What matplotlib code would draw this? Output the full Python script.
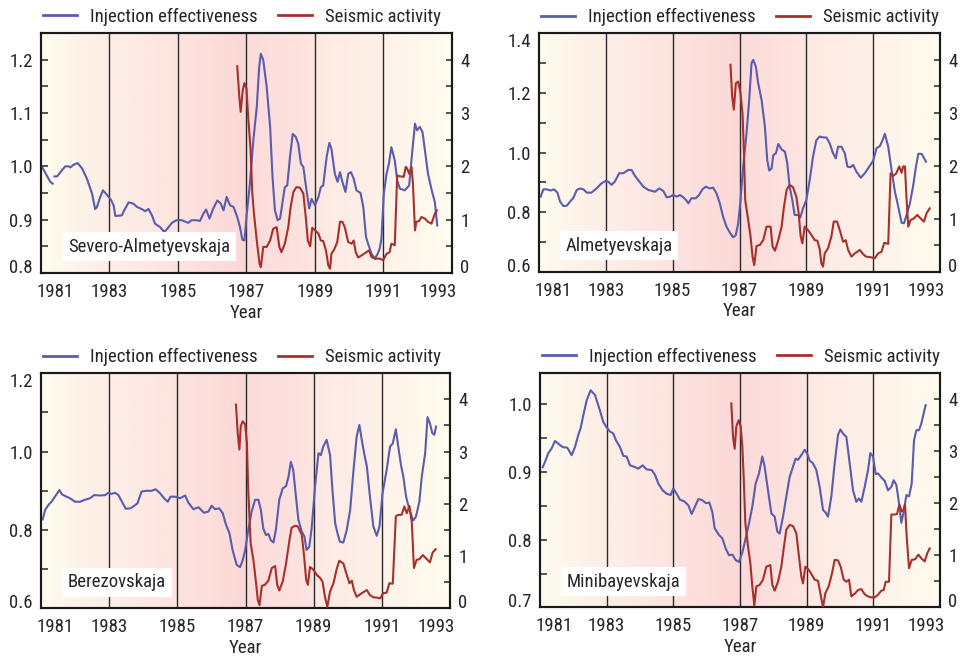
import numpy as np
import matplotlib
matplotlib.use("Agg")
import matplotlib.pyplot as plt
from matplotlib import font_manager as fm
from matplotlib.colors import to_rgb
from matplotlib.ticker import MultipleLocator, FormatStrFormatter
import matplotlib.transforms as mtransforms

# ---------------- data ----------------
stations = ["Severo-Almetyevskaja", "Almetyevskaja", "Berezovskaja", "Minibayevskaja"]
year_ticks = [1981, 1983, 1985, 1987, 1989, 1991, 1993]
year_tick_labels = ["1981", "1983", "1985", "1987", "1989", "1991", "1993"]
series_labels = ["Injection effectiveness", "Seismic activity"]

p1_blue_year = [1981.03, 1981.27, 1981.34, 1981.36, 1981.39, 1981.47, 1981.61, 1981.71, 1981.81, 1981.86, 1981.95, 1982.07,
                1982.2, 1982.34, 1982.49, 1982.58, 1982.63, 1982.73, 1982.81, 1982.92, 1983.04, 1983.12, 1983.17,
                1983.36, 1983.43, 1983.56, 1983.7, 1983.8, 1983.94, 1984.04, 1984.14, 1984.24, 1984.33, 1984.48,
                1984.6, 1984.69, 1984.82, 1984.95, 1985.11, 1985.3, 1985.4, 1985.55, 1985.64, 1985.74, 1985.82,
                1985.92, 1986.03, 1986.15, 1986.25, 1986.33, 1986.42, 1986.52, 1986.62, 1986.73, 1986.81, 1986.88,
                1986.94, 1987.0, 1987.1, 1987.2, 1987.3, 1987.37, 1987.42, 1987.49, 1987.59, 1987.69, 1987.76,
                1987.83, 1987.91, 1987.98, 1988.06, 1988.12, 1988.19, 1988.27, 1988.35, 1988.44, 1988.51, 1988.59,
                1988.66, 1988.74, 1988.83, 1988.9, 1989.0, 1989.1, 1989.17, 1989.24, 1989.34, 1989.42, 1989.48,
                1989.58, 1989.66, 1989.73, 1989.8, 1989.89, 1989.97, 1990.05, 1990.13, 1990.21, 1990.33, 1990.41,
                1990.49, 1990.55, 1990.65, 1990.75, 1990.83, 1990.89, 1990.94, 1991.01, 1991.09, 1991.16, 1991.23,
                1991.33, 1991.4, 1991.48, 1991.62, 1991.75, 1991.82, 1991.92, 1991.98, 1992.06, 1992.14, 1992.21,
                1992.3, 1992.42, 1992.5, 1992.57]
p1_blue_val = [0.999, 0.971, 0.9675, np.nan, 0.981, 0.981, 0.9925, 1.0, 1.0, 0.998, 1.003, 1.006,
               0.996, 0.977, 0.949, 0.92, 0.923, 0.9425, 0.955, 0.947, 0.9375, 0.927, 0.907,
               0.908, 0.9175, 0.9325, 0.93, 0.924, 0.92, 0.916, 0.92, 0.908, 0.8925, 0.886,
               0.877, 0.883, 0.894, 0.899, 0.899, 0.894, 0.899, 0.899, 0.8975, 0.911, 0.919,
               0.902, 0.921, 0.936, 0.93, 0.9175, 0.9425, 0.927, 0.924, 0.905, 0.886, 0.8625,
               0.861, 0.905, 0.9675, 1.049, 1.111, 1.186, 1.211, 1.199, 1.149, 1.074, 0.98,
               0.9175, 0.899, 0.902, 0.936, 0.961, 0.964, 1.0175, 1.061, 1.055, 1.0425, 1.005,
               0.999, 0.961, 0.921, 0.939, 0.927, 0.9425, 0.961, 0.964, 1.0175, 1.044, 1.033,
               0.986, 0.971, 0.989, 0.971, 0.952, 0.986, 0.989, 0.977, 0.955, 0.95, 0.924,
               0.8675, 0.855, 0.836, 0.827, 0.836, 0.846, 0.864, 0.949, 0.986, 1.005, 1.036,
               1.011, 0.974, 0.958, 0.955, 0.964, 1.014, 1.08, 1.0675, 1.074, 1.064, 1.03,
               0.986, 0.952, 0.933, 0.889]
p1_red_year = [1986.73, 1986.79, 1986.83, 1986.89, 1986.94, 1987.0, 1987.05, 1987.12, 1987.17, 1987.22, 1987.3,
               1987.38, 1987.42, 1987.49, 1987.59, 1987.69, 1987.78, 1987.88, 1987.96, 1988.02, 1988.12, 1988.22,
               1988.29, 1988.37, 1988.46, 1988.56, 1988.66, 1988.74, 1988.79, 1988.86, 1988.92, 1989.0, 1989.1,
               1989.17, 1989.24, 1989.32, 1989.39, 1989.44, 1989.48, 1989.56, 1989.65, 1989.73, 1989.8, 1989.87,
               1989.97, 1990.07, 1990.13, 1990.19, 1990.26, 1990.36, 1990.5, 1990.58, 1990.65, 1990.75, 1990.89,
               1990.99, 1991.09, 1991.18, 1991.23, 1991.33, 1991.4, 1991.48, 1991.55, 1991.59, 1991.65, 1991.69,
               1991.75, 1991.82, 1991.86, 1991.92, 1991.96, 1992.04, 1992.11, 1992.21, 1992.3, 1992.4, 1992.5,
               1992.56]
p1_red_val = [3.875, 3.3, 3.02, 3.425, 3.56, 3.46, 2.925, 2.3, 1.49, 1.11, 0.61,
              0.175, 0.11, 0.49, 0.49, 0.61, 0.83, 0.86, 0.49, 0.39, 0.55, 0.86,
              1.24, 1.52, 1.61, 1.6, 1.49, 0.99, 0.61, 0.5, 0.85, 0.8, 0.74,
              0.61, 0.6, 0.425, 0.14, 0.08, 0.36, 0.44, 0.58, 0.96, 0.96, 0.86,
              0.58, 0.55, 0.61, 0.39, 0.29, 0.33, 0.39, 0.425, 0.3, 0.27, 0.27,
              0.24, 0.36, 0.39, 0.55, 0.52, 1.83, 1.81, 1.81, 1.8, 1.99, 1.96,
              1.86, 1.99, 1.675, 0.8, 0.96, 0.975, 1.05, 1.02, 0.96, 0.925, 1.11,
              1.175]

p2_blue_year = [1981.05, 1981.13, 1981.23, 1981.35, 1981.45, 1981.55, 1981.63, 1981.73, 1981.83, 1981.93, 1982.03,
                1982.13, 1982.23, 1982.33, 1982.43, 1982.57, 1982.72, 1982.87, 1982.99, 1983.07, 1983.17, 1983.27,
                1983.4, 1983.52, 1983.67, 1983.77, 1983.87, 1983.97, 1984.12, 1984.27, 1984.47, 1984.6, 1984.72,
                1984.82, 1984.92, 1985.02, 1985.12, 1985.22, 1985.32, 1985.4, 1985.47, 1985.56, 1985.69, 1985.79,
                1985.89, 1985.99, 1986.11, 1986.21, 1986.31, 1986.41, 1986.51, 1986.61, 1986.71, 1986.81, 1986.89,
                1986.96, 1987.03, 1987.11, 1987.21, 1987.29, 1987.36, 1987.41, 1987.49, 1987.56, 1987.66, 1987.76,
                1987.83, 1987.89, 1987.96, 1988.01, 1988.09, 1988.16, 1988.26, 1988.36, 1988.43, 1988.5, 1988.58,
                1988.65, 1988.75, 1988.82, 1988.9, 1989.0, 1989.1, 1989.2, 1989.3, 1989.4, 1989.5, 1989.6,
                1989.7, 1989.8, 1989.88, 1989.95, 1990.05, 1990.15, 1990.23, 1990.32, 1990.4, 1990.5, 1990.63,
                1990.75, 1990.88, 1991.0, 1991.1, 1991.2, 1991.28, 1991.35, 1991.45, 1991.55, 1991.65, 1991.75,
                1991.85, 1991.92, 1992.0, 1992.1, 1992.2, 1992.28, 1992.35, 1992.45, 1992.58]
p2_blue_val = [0.8525, 0.877, 0.877, 0.873, 0.877, 0.866, 0.836, 0.821, 0.822, 0.836, 0.849,
               0.875, 0.88, 0.877, 0.866, 0.866, 0.88, 0.897, 0.905, 0.903, 0.892, 0.903,
               0.931, 0.931, 0.942, 0.942, 0.922, 0.908, 0.886, 0.875, 0.869, 0.88, 0.8715,
               0.85, 0.8525, 0.858, 0.8525, 0.858, 0.85, 0.841, 0.83, 0.847, 0.847, 0.858,
               0.877, 0.886, 0.88, 0.883, 0.864, 0.83, 0.785, 0.752, 0.732, 0.716, 0.724,
               0.763, 0.841, 0.953, 1.065, 1.177, 1.3, 1.311, 1.288, 1.232, 1.177, 1.087,
               0.975, 0.94, 0.947, 0.992, 0.998, 1.029, 1.011, 1.003, 0.964, 0.886, 0.841,
               0.791, 0.791, 0.783, 0.813, 0.841, 0.908, 0.987, 1.042, 1.054, 1.051, 1.051,
               1.031, 0.998, 0.981, 1.02, 1.02, 0.998, 0.953, 0.951, 0.959, 0.936, 0.916,
               0.931, 0.953, 0.973, 1.015, 1.022, 1.042, 1.063, 1.02, 0.942, 0.869, 0.819,
               0.765, 0.763, 0.791, 0.83, 0.892, 0.953, 0.996, 0.996, 0.97]
p2_red_year = [1986.73, 1986.78, 1986.83, 1986.89, 1986.96, 1987.03, 1987.09, 1987.13, 1987.17, 1987.26, 1987.33,
               1987.39, 1987.44, 1987.51, 1987.61, 1987.71, 1987.81, 1987.93, 1987.99, 1988.06, 1988.16, 1988.26,
               1988.33, 1988.41, 1988.5, 1988.6, 1988.7, 1988.77, 1988.83, 1988.88, 1988.95, 1989.05, 1989.15,
               1989.25, 1989.33, 1989.4, 1989.45, 1989.5, 1989.55, 1989.65, 1989.75, 1989.82, 1989.92, 1990.0,
               1990.1, 1990.18, 1990.25, 1990.35, 1990.45, 1990.6, 1990.68, 1990.78, 1990.9, 1991.05, 1991.15,
               1991.25, 1991.33, 1991.45, 1991.52, 1991.6, 1991.69, 1991.78, 1991.85, 1991.9, 1991.95, 1992.0,
               1992.05, 1992.12, 1992.22, 1992.32, 1992.42, 1992.52, 1992.6, 1992.69]
p2_red_val = [3.906, 3.31, 3.06, 3.56, 3.59, 3.37, 2.99, 2.3, 1.36, 0.98, 0.67,
              0.29, 0.13, 0.49, 0.51, 0.6, 0.855, 0.855, 0.48, 0.4, 0.6, 0.855,
              1.23, 1.55, 1.64, 1.6, 1.42, 1.11, 0.67, 0.54, 0.855, 0.79, 0.7,
              0.6, 0.59, 0.43, 0.16, 0.1, 0.35, 0.45, 0.67, 0.95, 0.95, 0.79,
              0.57, 0.6, 0.415, 0.29, 0.35, 0.415, 0.35, 0.29, 0.28, 0.26, 0.35,
              0.38, 0.55, 0.53, 1.86, 1.81, 1.86, 1.99, 1.87, 1.99, 1.99, 1.36,
              0.855, 0.98, 1.01, 1.075, 1.01, 0.95, 1.11, 1.2]

p3_blue_year = [1981.05, 1981.12, 1981.22, 1981.31, 1981.41, 1981.54, 1981.61, 1981.7, 1981.85, 1982.0, 1982.14,
                1982.29, 1982.44, 1982.56, 1982.73, 1982.88, 1982.98, 1983.07, 1983.17, 1983.27, 1983.4, 1983.49,
                1983.61, 1983.71, 1983.83, 1983.95, 1984.08, 1984.25, 1984.36, 1984.49, 1984.61, 1984.72, 1984.8,
                1984.93, 1985.08, 1985.23, 1985.32, 1985.47, 1985.62, 1985.78, 1985.91, 1986.01, 1986.1, 1986.23,
                1986.33, 1986.43, 1986.53, 1986.62, 1986.74, 1986.84, 1986.92, 1986.99, 1987.08, 1987.18, 1987.28,
                1987.38, 1987.45, 1987.52, 1987.6, 1987.67, 1987.74, 1987.82, 1987.89, 1987.99, 1988.09, 1988.19,
                1988.26, 1988.33, 1988.4, 1988.48, 1988.55, 1988.65, 1988.73, 1988.79, 1988.87, 1988.94, 1989.04,
                1989.14, 1989.21, 1989.28, 1989.38, 1989.48, 1989.55, 1989.63, 1989.7, 1989.77, 1989.87, 1989.97,
                1990.07, 1990.16, 1990.26, 1990.34, 1990.41, 1990.48, 1990.56, 1990.65, 1990.75, 1990.85, 1990.93,
                1991.02, 1991.14, 1991.24, 1991.32, 1991.41, 1991.48, 1991.56, 1991.63, 1991.71, 1991.81, 1991.92,
                1992.0, 1992.1, 1992.17, 1992.27, 1992.34, 1992.41, 1992.48, 1992.54, 1992.59]
p3_blue_val = [0.827, 0.851, 0.864, 0.872, 0.885, 0.902, 0.891, 0.887, 0.881, 0.872, 0.872,
               0.877, 0.881, 0.889, 0.888, 0.889, 0.895, 0.892, 0.895, 0.889, 0.868, 0.854,
               0.855, 0.86, 0.868, 0.898, 0.9, 0.9, 0.904, 0.894, 0.881, 0.872, 0.885,
               0.885, 0.881, 0.888, 0.87, 0.853, 0.858, 0.844, 0.847, 0.862, 0.853, 0.855,
               0.843, 0.813, 0.791, 0.749, 0.711, 0.705, 0.723, 0.749, 0.8, 0.847, 0.877,
               0.877, 0.851, 0.804, 0.787, 0.79, 0.774, 0.768, 0.8, 0.877, 0.906, 0.912,
               0.936, 0.974, 0.953, 0.885, 0.826, 0.796, 0.783, 0.749, 0.757, 0.804, 0.911,
               0.996, 0.991, 1.013, 1.03, 0.991, 0.902, 0.817, 0.791, 0.77, 0.768, 0.8,
               0.851, 0.945, 1.038, 1.068, 1.03, 0.996, 0.962, 0.885, 0.809, 0.785, 0.809,
               0.894, 0.953, 1.013, 1.021, 1.057, 1.013, 0.966, 0.936, 0.885, 0.851, 0.824,
               0.834, 0.872, 0.936, 0.996, 1.088, 1.072, 1.047, 1.043, 1.064]
p3_red_year = [1986.72, 1986.77, 1986.82, 1986.86, 1986.92, 1986.99, 1987.04, 1987.08, 1987.15, 1987.23, 1987.31,
               1987.36, 1987.41, 1987.48, 1987.57, 1987.67, 1987.77, 1987.87, 1987.93, 1987.99, 1988.09, 1988.19,
               1988.29, 1988.35, 1988.45, 1988.53, 1988.65, 1988.72, 1988.78, 1988.83, 1988.89, 1988.99, 1989.09,
               1989.19, 1989.26, 1989.33, 1989.4, 1989.48, 1989.58, 1989.67, 1989.75, 1989.87, 1989.97, 1990.05,
               1990.12, 1990.18, 1990.26, 1990.41, 1990.56, 1990.64, 1990.75, 1990.85, 1990.95, 1991.04, 1991.14,
               1991.22, 1991.32, 1991.41, 1991.48, 1991.58, 1991.66, 1991.73, 1991.81, 1991.88, 1991.94, 1992.02,
               1992.1, 1992.2, 1992.29, 1992.41, 1992.49, 1992.58]
p3_red_val = [3.9, 3.36, 3.04, 3.49, 3.58, 3.52, 3.17, 2.27, 1.25, 0.93, 0.48,
              0.16, 0.06, 0.43, 0.45, 0.53, 0.77, 0.81, 0.45, 0.34, 0.51, 0.86,
              1.31, 1.54, 1.58, 1.57, 1.41, 0.99, 0.54, 0.45, 0.79, 0.74, 0.64,
              0.58, 0.51, 0.22, 0.03, 0.32, 0.48, 0.74, 0.91, 0.86, 0.64, 0.48,
              0.53, 0.35, 0.22, 0.29, 0.35, 0.26, 0.21, 0.205, 0.19, 0.29, 0.3,
              0.48, 0.47, 1.76, 1.79, 1.79, 1.95, 1.82, 1.96, 1.63, 0.77, 0.93,
              0.94, 1.02, 0.96, 0.88, 1.07, 1.13]

p4_blue_year = [1981.08, 1981.15, 1981.25, 1981.35, 1981.45, 1981.55, 1981.68, 1981.82, 1981.95, 1982.05, 1982.15,
                1982.22, 1982.3, 1982.4, 1982.52, 1982.65, 1982.78, 1982.9, 1983.0, 1983.1, 1983.2, 1983.28,
                1983.4, 1983.5, 1983.6, 1983.7, 1983.82, 1983.95, 1984.08, 1984.2, 1984.35, 1984.45, 1984.55,
                1984.68, 1984.8, 1984.92, 1985.0, 1985.1, 1985.2, 1985.32, 1985.45, 1985.55, 1985.65, 1985.75,
                1985.85, 1985.98, 1986.08, 1986.17, 1986.24, 1986.37, 1986.47, 1986.57, 1986.67, 1986.77, 1986.87,
                1986.97, 1987.07, 1987.17, 1987.27, 1987.37, 1987.47, 1987.57, 1987.67, 1987.74, 1987.84, 1987.94,
                1988.04, 1988.12, 1988.19, 1988.29, 1988.39, 1988.49, 1988.59, 1988.67, 1988.74, 1988.84, 1988.94,
                1989.01, 1989.09, 1989.19, 1989.29, 1989.39, 1989.49, 1989.57, 1989.64, 1989.74, 1989.84, 1989.94,
                1990.01, 1990.09, 1990.19, 1990.29, 1990.39, 1990.49, 1990.57, 1990.64, 1990.74, 1990.84, 1990.91,
                1990.99, 1991.07, 1991.14, 1991.24, 1991.34, 1991.44, 1991.54, 1991.61, 1991.69, 1991.77, 1991.84,
                1991.91, 1991.99, 1992.07, 1992.15, 1992.22, 1992.29, 1992.37, 1992.44, 1992.51, 1992.57]
p4_blue_val = [0.907, 0.915, 0.928, 0.935, 0.946, 0.942, 0.937, 0.936, 0.925, 0.937, 0.955,
               0.965, 0.984, 1.006, 1.021, 1.014, 0.994, 0.974, 0.966, 0.96, 0.957, 0.947,
               0.937, 0.924, 0.923, 0.91, 0.908, 0.905, 0.91, 0.904, 0.903, 0.896, 0.883,
               0.873, 0.868, 0.866, 0.876, 0.868, 0.859, 0.857, 0.851, 0.838, 0.849, 0.86,
               0.859, 0.854, 0.855, 0.841, 0.817, 0.807, 0.802, 0.787, 0.777, 0.778, 0.77,
               0.767, 0.781, 0.802, 0.824, 0.849, 0.883, 0.898, 0.923, 0.908, 0.873, 0.839,
               0.834, 0.812, 0.809, 0.834, 0.864, 0.893, 0.908, 0.92, 0.918, 0.925, 0.933,
               0.928, 0.917, 0.913, 0.903, 0.878, 0.844, 0.84, 0.834, 0.864, 0.913, 0.955,
               0.963, 0.957, 0.952, 0.913, 0.873, 0.856, 0.861, 0.856, 0.878, 0.903, 0.928,
               0.923, 0.897, 0.898, 0.892, 0.887, 0.873, 0.878, 0.888, 0.881, 0.854, 0.825,
               0.841, 0.866, 0.864, 0.883, 0.947, 0.962, 0.962, 0.972, 0.987, 0.999]
p4_red_year = [1986.74, 1986.79, 1986.84, 1986.89, 1986.96, 1987.02, 1987.07, 1987.11, 1987.16, 1987.24, 1987.31,
               1987.37, 1987.43, 1987.49, 1987.59, 1987.69, 1987.79, 1987.91, 1987.97, 1988.04, 1988.14, 1988.24,
               1988.32, 1988.39, 1988.49, 1988.59, 1988.69, 1988.77, 1988.84, 1988.89, 1988.96, 1989.06, 1989.16,
               1989.24, 1989.34, 1989.41, 1989.49, 1989.56, 1989.66, 1989.76, 1989.84, 1989.94, 1990.02, 1990.11,
               1990.19, 1990.27, 1990.34, 1990.44, 1990.54, 1990.64, 1990.74, 1990.84, 1990.94, 1991.04, 1991.14,
               1991.24, 1991.31, 1991.37, 1991.47, 1991.54, 1991.64, 1991.71, 1991.78, 1991.85, 1991.9, 1991.95,
               1992.0, 1992.07, 1992.15, 1992.25, 1992.35, 1992.44, 1992.54, 1992.62, 1992.69]
p4_red_val = [3.91, 3.28, 3.04, 3.47, 3.59, 3.47, 3.09, 2.51, 1.62, 1.17, 0.85,
              0.4, 0.04, 0.4, 0.43, 0.53, 0.78, 0.81, 0.43, 0.32, 0.49, 0.78,
              1.17, 1.49, 1.58, 1.56, 1.42, 0.97, 0.59, 0.46, 0.78, 0.72, 0.62,
              0.53, 0.51, 0.27, 0.0, 0.27, 0.4, 0.65, 0.91, 0.9, 0.78, 0.53,
              0.49, 0.53, 0.21, 0.26, 0.33, 0.35, 0.25, 0.21, 0.19, 0.19, 0.24,
              0.32, 0.33, 0.49, 0.49, 1.78, 1.78, 1.79, 1.97, 1.84, 1.87, 1.97,
              1.36, 0.75, 0.91, 0.92, 1.01, 0.94, 0.88, 1.04, 1.13]

left_limits = [(0.8, 1.25), (0.6, 1.4), (0.6, 1.2), (0.7, 1.047)]
left_major = [0.1, 0.2, 0.2, 0.1]
right_limits = [(0, 4.5), (0, 4.5), (0, 4.5), (0, 4.5)]

blue_years = [p1_blue_year, p2_blue_year, p3_blue_year, p4_blue_year]
blue_vals = [p1_blue_val, p2_blue_val, p3_blue_val, p4_blue_val]
red_years = [p1_red_year, p2_red_year, p3_red_year, p4_red_year]
red_vals = [p1_red_val, p2_red_val, p3_red_val, p4_red_val]

# ---------------- style ----------------
names = {f.name for f in fm.fontManager.ttflist}
prefs = ["Roboto Condensed", "Archivo Narrow", "PT Sans Narrow", "Liberation Sans Narrow",
         "Fira Sans Condensed", "Barlow Semi Condensed", "IBM Plex Sans Condensed", "Roboto"]
chosen = next((p for p in prefs if p in names), "DejaVu Sans")
plt.rcParams["font.family"] = [chosen, "DejaVu Sans"]
FS = 13.5
TXT = "#262626"
BLUE = "#5a5cae"
RED = "#a8302c"

bg_segments = [(1981, 1983, "#fffcef", "#fdede5"), (1983, 1985, "#fdefe8", "#fde3df"),
               (1985, 1987, "#fde4e0", "#fbd8d7"), (1987, 1989, "#fcdbda", "#fde5e1"),
               (1989, 1991, "#fde9e3", "#fef1e9"), (1991, 1993, "#fff3ea", "#fffcef")]

fig = plt.figure(figsize=(9.67, 6.56), dpi=100)
positions = [(0.0424, 0.5838, 0.425, 0.366), (0.5574, 0.5854, 0.4147, 0.3638),
             (0.0424, 0.0727, 0.423, 0.3583), (0.5584, 0.0742, 0.4137, 0.3577)]

# background gradient image
ncol = 1200
xs = np.linspace(1981, 1993, ncol)
img = np.zeros((1, ncol, 3))
for (a, b, c0, c1) in bg_segments:
    m = (xs >= a) & (xs <= b)
    t = (xs[m] - a) / (b - a)
    img[0, m] = (1 - t)[:, None] * np.array(to_rgb(c0)) + t[:, None] * np.array(to_rgb(c1))

for i in range(4):
    ax = fig.add_axes(positions[i])
    lo, hi = left_limits[i]
    ax.set_xlim(1981, 1993)
    ax.set_ylim(lo, hi)
    ax.imshow(img, extent=(1981, 1993, lo, hi), aspect="auto", zorder=0, interpolation="bilinear")
    for yv in year_ticks[1:-1]:
        ax.axvline(yv, color="#2a2a2a", lw=1.0, zorder=1)
    lb, = ax.plot(blue_years[i], blue_vals[i], color=BLUE, lw=1.5, zorder=3)
    ax2 = ax.twinx()
    ax2.set_ylim(*right_limits[i])
    lr, = ax2.plot(red_years[i], red_vals[i], color=RED, lw=1.5, zorder=3)

    # x ticks
    ax.set_xticks(year_ticks)
    ax.set_xticklabels(year_tick_labels)
    ax.xaxis.set_minor_locator(MultipleLocator(2, offset=1))
    ax.tick_params(axis="x", which="major", length=0, pad=7, labelsize=FS, colors=TXT)
    ax.tick_params(axis="x", which="minor", direction="in", length=5, width=1.1, color="#222222")
    ax.set_xlabel("Year", fontsize=FS, color=TXT, labelpad=2)

    # left y ticks
    ax.yaxis.set_major_locator(MultipleLocator(left_major[i]))
    ax.yaxis.set_minor_locator(MultipleLocator(left_major[i] / 2))
    ax.yaxis.set_major_formatter(FormatStrFormatter("%.1f"))
    ax.tick_params(axis="y", which="both", direction="in", length=5, width=1.1, pad=6,
                   labelsize=FS, colors=TXT)
    # right y ticks
    ax2.yaxis.set_major_locator(MultipleLocator(1))
    ax2.yaxis.set_minor_locator(MultipleLocator(0.5))
    ax2.yaxis.set_major_formatter(FormatStrFormatter("%d"))
    ax2.tick_params(axis="y", which="both", direction="in", length=4, width=1.1, pad=6,
                    labelsize=FS, colors=TXT)
    for a in (ax, ax2):
        for s in a.spines.values():
            s.set_linewidth(1.5)
            s.set_color("#1a1a1a")

    fig.canvas.draw()
    # shift edge tick labels inward
    xl = ax.get_xticklabels()
    xl[0].set_transform(xl[0].get_transform() + mtransforms.ScaledTranslation(14 / 100, 0, fig.dpi_scale_trans))
    xl[-1].set_transform(xl[-1].get_transform() + mtransforms.ScaledTranslation(-14 / 100, 0, fig.dpi_scale_trans))
    yl = [t for t in ax.get_yticklabels() if lo - 1e-6 <= t.get_position()[1] <= hi + 1e-6]
    if yl:
        if abs(yl[0].get_position()[1] - lo) < 1e-6:
            yl[0].set_transform(yl[0].get_transform() + mtransforms.ScaledTranslation(0, 7 / 100, fig.dpi_scale_trans))
        if abs(yl[-1].get_position()[1] - hi) < 1e-3:
            yl[-1].set_transform(yl[-1].get_transform() + mtransforms.ScaledTranslation(0, -7 / 100, fig.dpi_scale_trans))
    rl = [t for t in ax2.get_yticklabels() if abs(t.get_position()[1]) < 1e-6]
    for t in rl:
        t.set_transform(t.get_transform() + mtransforms.ScaledTranslation(0, 7 / 100, fig.dpi_scale_trans))

    # station label
    ax.text(0.066, 0.11, stations[i], transform=ax.transAxes, fontsize=FS, color=TXT,
            ha="left", va="center", zorder=5,
            bbox=dict(boxstyle="square,pad=0.3", facecolor="white", edgecolor="none"))

    # legend
    ax_h = positions[i][3] * 6.56 * 100
    leg = ax.legend([lb, lr], series_labels, loc="center left",
                    bbox_to_anchor=(0.005, 1 + 16 / ax_h), frameon=False, ncol=2,
                    fontsize=FS, handlelength=1.8, handletextpad=0.7, columnspacing=1.1,
                    borderpad=0, borderaxespad=0)
    for t in leg.get_texts():
        t.set_color(TXT)
    for h in leg.get_lines():
        h.set_linewidth(2.0)

fig.savefig("out.png", dpi=100)
